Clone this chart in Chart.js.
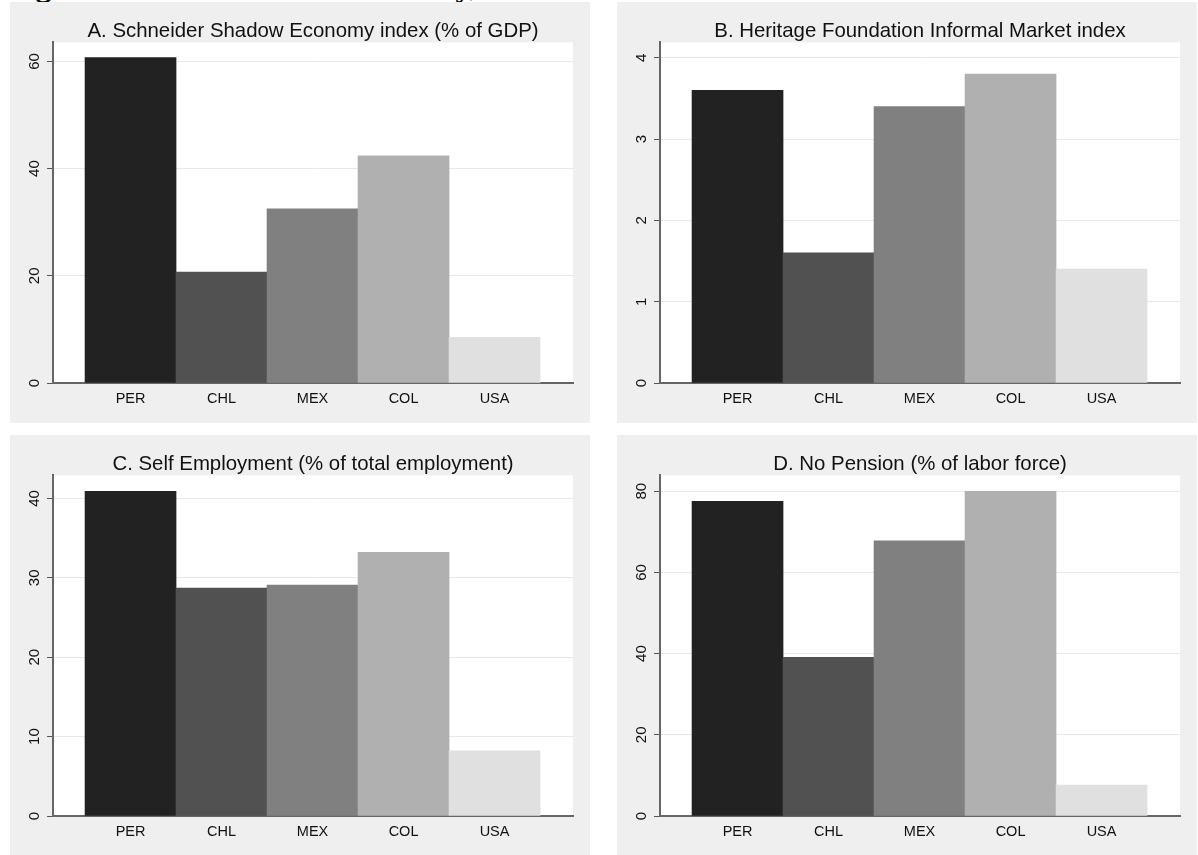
<!DOCTYPE html>
<html>
<head>
<meta charset="utf-8">
<script src="https://cdn.jsdelivr.net/npm/chart.js@4.4.1/dist/chart.umd.min.js"></script>
<style>
  html, body { margin: 0; padding: 0; background: #fff; overflow: hidden; }
  body { width: 1198px; height: 855px; position: relative; }
  .panel { position: absolute; width: 580px; height: 421px; background: #efefef; }
  .panel canvas { display: block; }
  #figTitle {
    position: absolute; left: 7px; top: -31px; margin: 0;
    font: bold 32px "Liberation Serif", "Times New Roman", serif;
    line-height: 32px; color: #000; white-space: nowrap;
  }
</style>
</head>
<body>
<div id="figTitle">Figure 1: Measures of Informality, Selected Countries</div>
<div class="panel" style="left:10px; top:2px;"><canvas id="chartA" width="580" height="421"></canvas></div>
<div class="panel" style="left:617px; top:2px;"><canvas id="chartB" width="580" height="421"></canvas></div>
<div class="panel" style="left:10px; top:435px;"><canvas id="chartC" width="580" height="421"></canvas></div>
<div class="panel" style="left:617px; top:435px;"><canvas id="chartD" width="580" height="421"></canvas></div>
<script>
const countries = ['PER', 'CHL', 'MEX', 'COL', 'USA'];
const barColors = ['#222222', '#515151', '#808080', '#b0b0b0', '#e0e0e0'];

// values
const shadowEconomy = [60.7, 20.7, 32.5, 42.4, 8.5];
const informalMarket = [3.6, 1.6, 3.4, 3.8, 1.4];
const selfEmployment = [40.9, 28.7, 29.1, 33.2, 8.2];
const noPension = [77.5, 39.1, 67.8, 80.0, 7.6];

const ticksA = [0, 20, 40, 60];
const ticksB = [0, 1, 2, 3, 4];
const ticksC = [0, 10, 20, 30, 40];
const ticksD = [0, 20, 40, 60, 80];

const fontFamily = '"Liberation Sans", Arial, Helvetica, sans-serif';

// white plot region on the grey graph region
const plotBg = {
  id: 'plotBg',
  beforeDraw(chart) {
    const { ctx, chartArea: a } = chart;
    ctx.save();
    ctx.fillStyle = '#ffffff';
    ctx.fillRect(a.left, a.top, a.right - a.left, a.bottom - a.top);
    ctx.restore();
  }
};

function makeChart(id, title, values, yTicks, yMax, labelPad) {
  const ctx = document.getElementById(id).getContext('2d');
  return new Chart(ctx, {
    type: 'bar',
    data: {
      datasets: [{
        data: values.map((v, i) => ({ x: i + 1, y: v })),
        backgroundColor: barColors,
        borderWidth: 0,
        barPercentage: 1,
        categoryPercentage: 1
      }]
    },
    options: {
      responsive: false,
      animation: false,
      devicePixelRatio: 1,
      layout: { padding: { left: 0, right: 17, top: 0, bottom: 0 } },
      plugins: {
        legend: { display: false },
        tooltip: { enabled: false },
        title: {
          display: true,
          text: title,
          fullSize: false,
          color: '#111',
          font: { family: fontFamily, size: 20.4, weight: 'normal', lineHeight: 1.0 },
          padding: { top: 19, bottom: 1 }
        }
      },
      scales: {
        x: {
          type: 'linear',
          min: 0.148,
          max: 5.862,
          offset: false,
          afterBuildTicks: scale => { scale.ticks = countries.map((c, i) => ({ value: i + 1 })); },
          afterFit: scale => { scale.height = 40; },
          grid: { display: true, drawOnChartArea: false, drawTicks: false, offset: false },
          border: { display: true, color: '#666', width: 2 },
          ticks: {
            autoSkip: false,
            maxRotation: 0,
            padding: 7,
            color: '#111',
            font: { family: fontFamily, size: 14.5 },
            callback: v => countries[v - 1] || ''
          }
        },
        y: {
          min: 0,
          max: yMax,
          afterBuildTicks: scale => { scale.ticks = yTicks.map(v => ({ value: v })); },
          afterFit: scale => { scale.width = 43; },
          grid: { color: '#e8e8e8', lineWidth: 1, tickLength: 6, tickColor: '#555', tickWidth: 1 },
          border: { display: true, color: '#666', width: 2 },
          ticks: {
            minRotation: 90,
            maxRotation: 90,
            crossAlign: 'center',
            padding: labelPad,
            color: '#111',
            font: { family: fontFamily, size: 15 }
          }
        }
      }
    },
    plugins: [plotBg]
  });
}

makeChart('chartA', 'A. Schneider Shadow Economy index (% of GDP)', shadowEconomy, ticksA, 63.55, 4);
makeChart('chartB', 'B. Heritage Foundation Informal Market index', informalMarket, ticksB, 4.19, 8);
makeChart('chartC', 'C. Self Employment (% of total employment)', selfEmployment, ticksC, 42.9, 4);
makeChart('chartD', 'D. No Pension (% of labor force)', noPension, ticksD, 83.9, 4);
</script>
</body>
</html>
